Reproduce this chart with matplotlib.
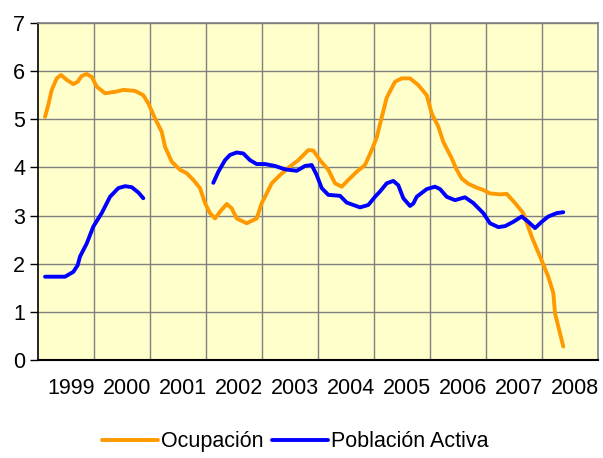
import numpy as np
import matplotlib
matplotlib.use("Agg")
import matplotlib.pyplot as plt

plt.rcParams["font.family"] = ["Liberation Sans", "DejaVu Sans"]

# years shown on the category axis
years = ["1999", "2000", "2001", "2002", "2003", "2004", "2005", "2006", "2007", "2008"]

# Ocupación: (time in years since start of 1999, value)
ocu_t = [0.134, 0.193, 0.254, 0.343, 0.420, 0.521, 0.639, 0.718, 0.789, 0.879, 0.968,
         1.057, 1.205, 1.384, 1.532, 1.741, 1.889, 1.979, 2.098, 2.218, 2.277, 2.396,
         2.545, 2.664, 2.782, 2.902, 2.991, 3.080, 3.170, 3.259, 3.379, 3.468, 3.557,
         3.736, 3.914, 4.004, 4.063, 4.182, 4.330, 4.509, 4.657, 4.836, 4.925, 5.045,
         5.193, 5.313, 5.432, 5.550, 5.700, 5.848, 5.968, 6.057, 6.116, 6.236, 6.384,
         6.504, 6.652, 6.800, 6.950, 7.039, 7.157, 7.246, 7.396, 7.486, 7.575, 7.693,
         7.843, 7.961, 8.080, 8.259, 8.379, 8.527, 8.675, 8.825, 8.973, 9.121, 9.211,
         9.241, 9.389]
ocu_v = [5.05, 5.30, 5.61, 5.85, 5.92, 5.82, 5.73, 5.78, 5.90, 5.94, 5.88,
         5.68, 5.54, 5.57, 5.61, 5.59, 5.50, 5.33, 5.02, 4.74, 4.43, 4.12,
         3.95, 3.88, 3.74, 3.57, 3.26, 3.05, 2.94, 3.08, 3.24, 3.15, 2.94,
         2.84, 2.94, 3.26, 3.39, 3.67, 3.84, 4.02, 4.15, 4.36, 4.35, 4.15,
         3.95, 3.67, 3.60, 3.74, 3.91, 4.05, 4.36, 4.62, 4.90, 5.45, 5.78,
         5.85, 5.85, 5.71, 5.50, 5.12, 4.85, 4.53, 4.19, 3.95, 3.77, 3.66,
         3.58, 3.53, 3.46, 3.44, 3.45, 3.26, 3.05, 2.56, 2.15, 1.73, 1.39,
         0.97, 0.28]

# Población Activa (gap between 2000 and 2002)
act_t = [0.134, 0.491, 0.639, 0.718, 0.759, 0.879, 0.996, 1.146, 1.295, 1.443, 1.563,
         1.682, 1.800, 1.889,
         3.139, 3.229, 3.348, 3.438, 3.557, 3.675, 3.795, 3.914, 4.063, 4.241, 4.420,
         4.629, 4.777, 4.896, 4.986, 5.075, 5.193, 5.402, 5.521, 5.759, 5.907, 6.027,
         6.116, 6.236, 6.354, 6.443, 6.532, 6.652, 6.711, 6.771, 6.950, 7.098, 7.188,
         7.307, 7.455, 7.634, 7.782, 7.961, 8.080, 8.229, 8.348, 8.496, 8.646, 8.764,
         8.884, 9.004, 9.121, 9.271, 9.389]
act_v = [1.73, 1.73, 1.83, 1.97, 2.15, 2.42, 2.77, 3.05, 3.39, 3.57, 3.61,
         3.59, 3.48, 3.36,
         3.68, 3.91, 4.15, 4.26, 4.31, 4.29, 4.15, 4.07, 4.07, 4.03, 3.96,
         3.93, 4.03, 4.05, 3.84, 3.57, 3.43, 3.41, 3.27, 3.17, 3.22, 3.39,
         3.50, 3.67, 3.72, 3.63, 3.36, 3.20, 3.25, 3.39, 3.55, 3.60, 3.55,
         3.39, 3.32, 3.38, 3.26, 3.05, 2.84, 2.76, 2.78, 2.87, 2.98, 2.87,
         2.74, 2.87, 2.98, 3.05, 3.07]
act_gap_after = 14  # first segment length

fig = plt.figure(figsize=(6.03, 4.58), dpi=100)
ax = fig.add_axes([0.0622, 0.214, 0.9287, 0.7358])
ax.set_facecolor("#FFFFCC")

kw = dict(color="#FF9900", lw=2.8, solid_capstyle="round", solid_joinstyle="round")
ax.plot(ocu_t, ocu_v, label="Ocupación", **kw)
kw["color"] = "#0000FF"
ax.plot(act_t[:act_gap_after], act_v[:act_gap_after], label="Población Activa", **kw)
ax.plot(act_t[act_gap_after:], act_v[act_gap_after:], **kw)

ax.set_xlim(0, len(years))
ax.set_ylim(0, 7)
ax.set_yticks(range(0, 8))
ax.set_xticks(np.arange(len(years)) + 0.6)
ax.set_xticklabels(years)
ax.set_xticks(np.arange(1, len(years)), minor=True)
ax.tick_params(axis="x", which="both", length=0, labelsize=15.5, pad=13)
ax.tick_params(axis="y", length=6, width=1, labelsize=15.5, pad=3)
ax.grid(axis="y", color="#808080", lw=1)
ax.grid(axis="x", which="minor", color="#808080", lw=1)
ax.set_axisbelow(True)
for s in ["top", "right"]:
    ax.spines[s].set_color("#808080")
    ax.spines[s].set_linewidth(1.2)
ax.spines["left"].set_linewidth(1.2)
ax.spines["bottom"].set_linewidth(1.5)

fig.legend(loc="lower center", bbox_to_anchor=(0.49, -0.03), ncol=2, frameon=False,
           fontsize=15.5, handlelength=2.6, handletextpad=0.15, columnspacing=0.4)

fig.savefig("out.png", dpi=100)
